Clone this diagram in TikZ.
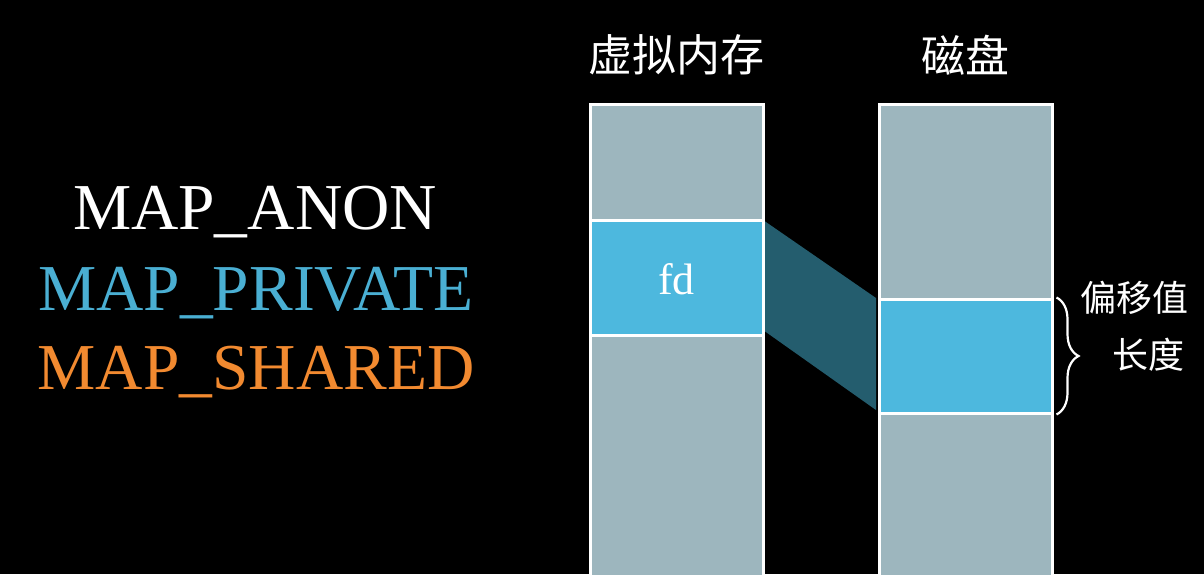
\documentclass[tikz,border=0pt]{standalone}
\usepackage{fontspec}
\setmainfont{Liberation Serif}
\newfontfamily\cjk{Noto Sans CJK SC}
\usetikzlibrary{decorations.pathreplacing}
\definecolor{segGray}{HTML}{9DB6BE}
\definecolor{segBlue}{HTML}{4DB8DE}
\definecolor{linkTeal}{HTML}{245D6E}
\definecolor{txtBlue}{HTML}{4AAFD3}
\definecolor{txtOrange}{HTML}{F28A30}
\begin{document}
\begin{tikzpicture}[x=1pt,y=-1pt,
  seg/.style={draw=white,line width=3pt,minimum width=173pt,inner sep=0pt,anchor=north west},
  graySeg/.style={seg,fill=segGray},
  blueSeg/.style={seg,fill=segBlue},
  flag/.style={font=\fontsize{65.5}{65.5}\selectfont},
  head/.style={text=white,font=\cjk\fontsize{44}{44}\selectfont},
  side/.style={text=white,font=\cjk\fontsize{36}{36}\selectfont}]
\fill[black] (0,0) rectangle (1204,574);
\useasboundingbox (0,0) rectangle (1204,574);
\clip (0,0) rectangle (1204,574);
% flags
\node[flag,text=white] (anon) at (255,212) {MAP\_ANON};
\node[flag,text=txtBlue] (priv) at (256,293) {MAP\_PRIVATE};
\node[flag,text=txtOrange] (shared) at (256,372) {MAP\_SHARED};
% headers
\node[head] (vm) at (676,55) {虚拟内存};
\node[head] (disk) at (965,55) {磁盘};
% link
\coordinate (l1) at (763,220);
\coordinate (l2) at (763,330);
\coordinate (r1) at (876,298);
\coordinate (r2) at (876,410);
\fill[linkTeal] (l1) -- (r1) -- (r2) -- (l2) -- cycle;
% virtual memory column
\node[graySeg,minimum height=116pt] (vmTop) at (588.5,102.5) {};
\node[blueSeg,minimum height=115pt] (vmFd) at (588.5,218.5) {};
\node[graySeg,minimum height=260pt] (vmBot) at (588.5,333.5) {};
\node[text=white,font=\fontsize{44}{44}\selectfont] (fd) at ([yshift=-2pt]vmFd.center) {fd};
% disk column
\node[graySeg,minimum height=195pt] (dTop) at (877.5,102.5) {};
\node[blueSeg,minimum height=114pt] (dSeg) at (877.5,297.5) {};
\node[graySeg,minimum height=180pt] (dBot) at (877.5,411.5) {};
% brace
\draw[white,line width=2.2pt,decorate,decoration={brace,amplitude=22pt}]
  (dSeg.north east) ++(3,0) coordinate (bTop) -- (dSeg.south east -| bTop);
\node[side] (off) at (1134,298) {偏移值};
\node[side] (len) at (1148,355) {长度};
\end{tikzpicture}
\end{document}
